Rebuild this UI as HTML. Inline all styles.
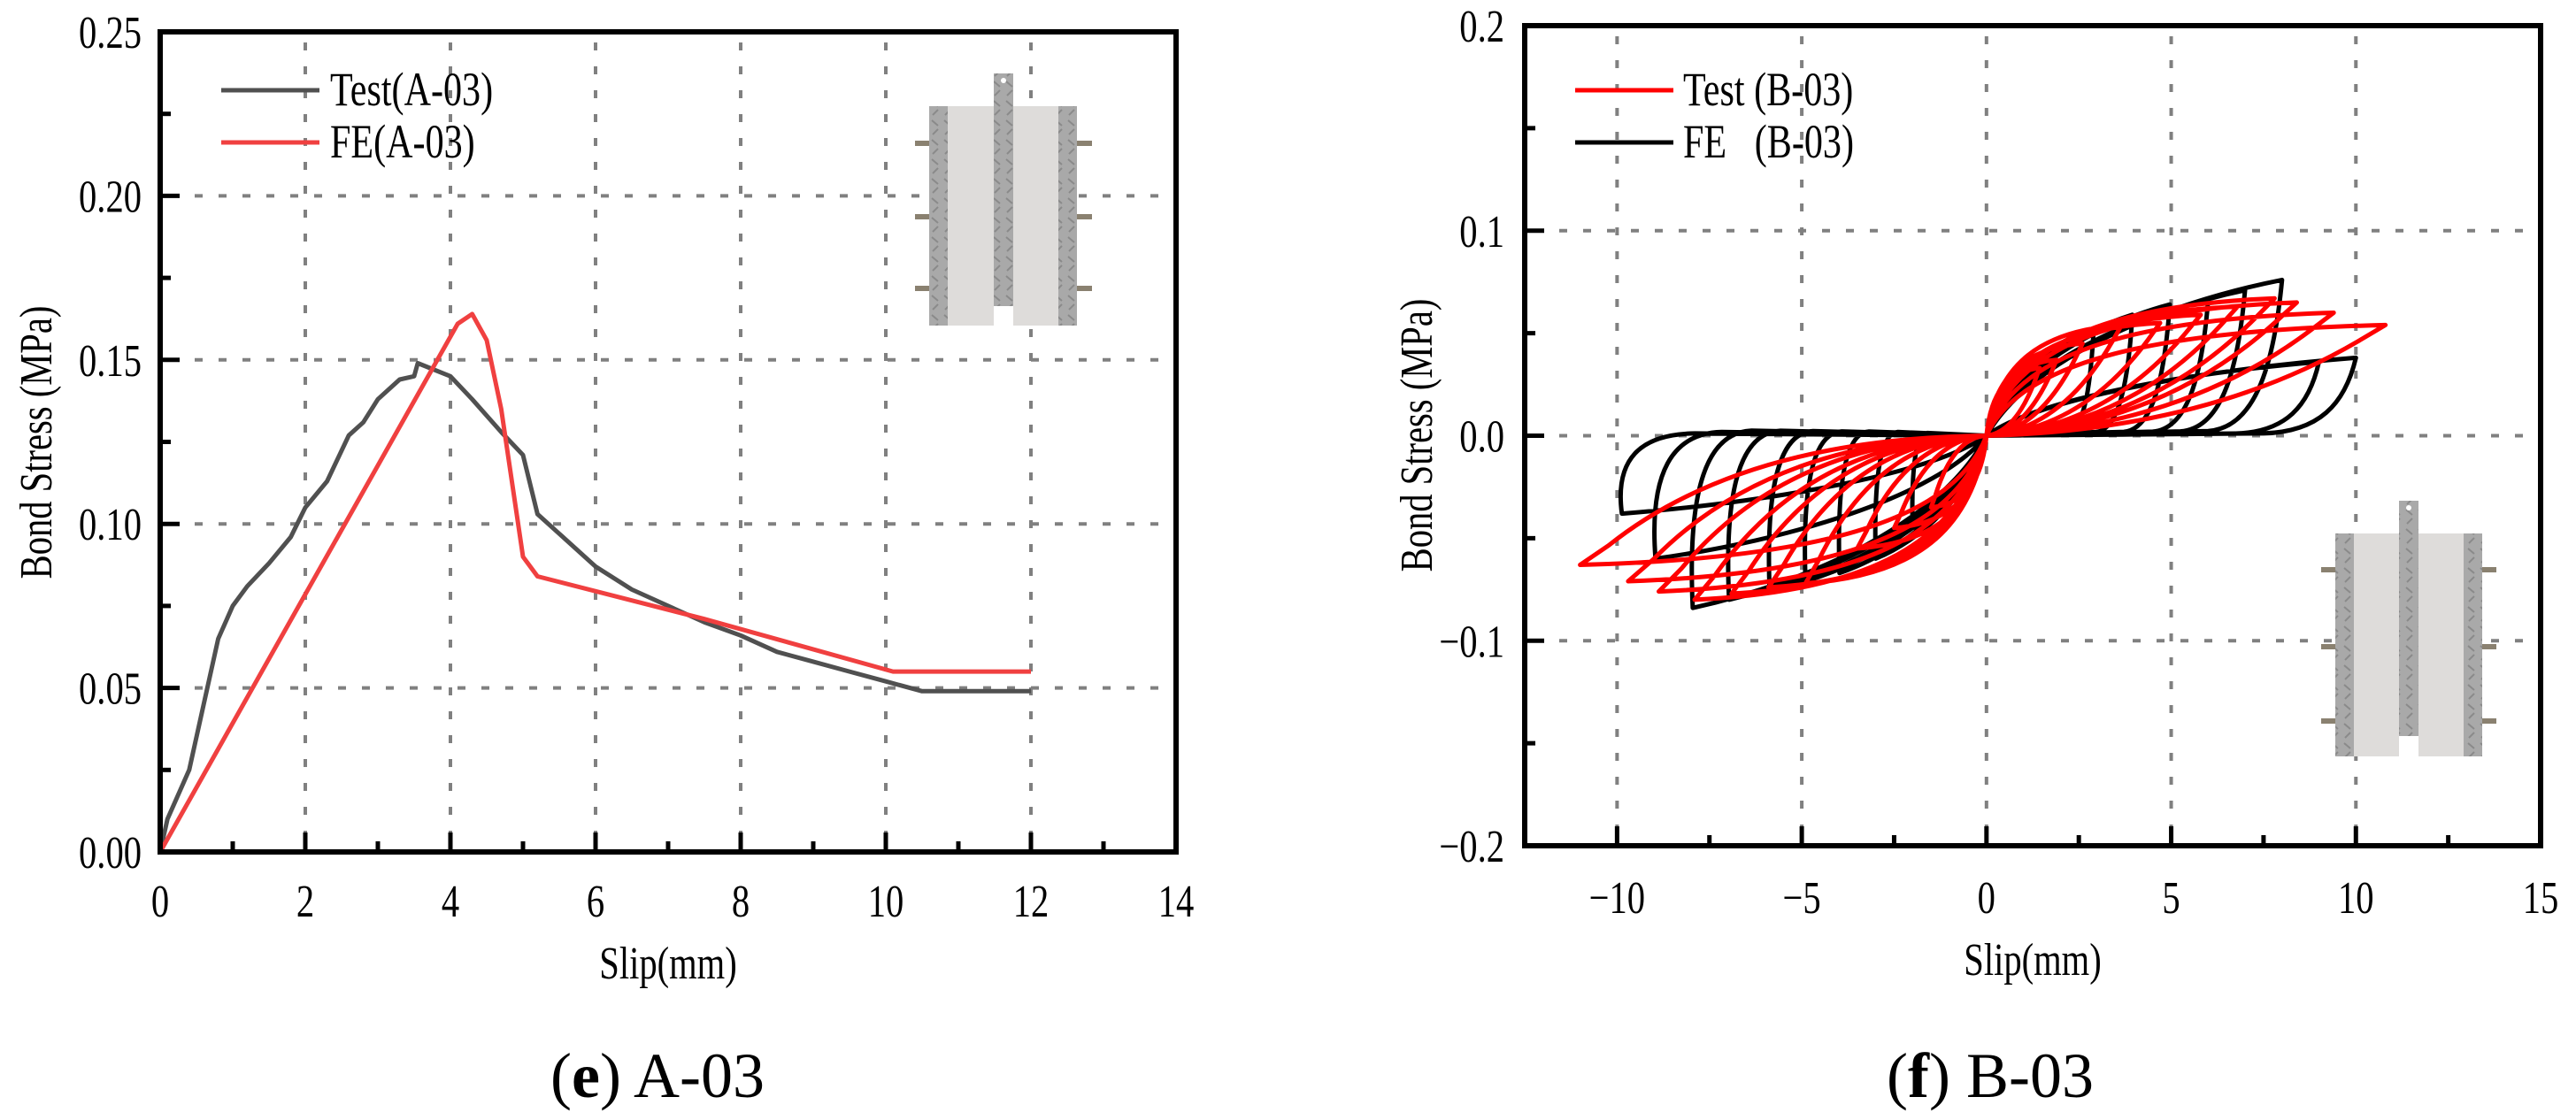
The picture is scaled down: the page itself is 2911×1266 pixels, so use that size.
<!DOCTYPE html>
<html><head><meta charset="utf-8"><style>
html,body{margin:0;padding:0;background:#fff;width:2911px;height:1266px;overflow:hidden}
svg text{font-family:"Liberation Serif","DejaVu Serif",serif;fill:#000}
</style></head><body>
<svg id="fig" width="2911" height="1266" viewBox="0 0 2911 1266" xmlns="http://www.w3.org/2000/svg" font-family="Liberation Serif, serif">
<defs>
<pattern id="plate" width="14" height="22" patternUnits="userSpaceOnUse"><rect width="14" height="22" fill="#a9a9a9"/><path d="M3 4 L10 10 M10 14 L4 20" stroke="#8a8a8a" stroke-width="2"/></pattern>
</defs>
<g id="left"></g>
<g id="right"></g>
</svg>
<script>
// ---- Chart A-03 data ----
const aTestX=[0,0.1,0.2,0.4,0.6,0.8,1.0,1.2,1.5,1.8,2.0,2.3,2.6,2.8,3.0,3.3,3.5,3.55,4.0,4.3,4.7,5.0,5.2,5.5,6.0,6.5,7.0,7.5,8.0,8.5,9.0,9.5,10.0,10.5,12.0];
const aTestY=[0,0.01,0.015,0.025,0.045,0.065,0.075,0.081,0.088,0.096,0.105,0.113,0.127,0.131,0.138,0.144,0.145,0.149,0.145,0.138,0.128,0.121,0.103,0.097,0.087,0.080,0.075,0.070,0.066,0.061,0.058,0.055,0.052,0.049,0.049];
const aFeX=[0,4.1,4.3,4.5,4.7,5.0,5.2,7.5,10.1,12];
const aFeY=[0,0.161,0.164,0.156,0.135,0.09,0.084,0.071,0.055,0.055];
const aXTicks=[0,2,4,6,8,10,12,14];
const aYTicks=[0,0.05,0.10,0.15,0.20,0.25];
const aYLabels=["0.00","0.05","0.10","0.15","0.20","0.25"];
// ---- Chart B-03 data: cycle peaks ----
const bTestPosX=[1.44,1.9,2.6,3.66,4.7,5.8,6.8,7.8,8.4,9.4,10.8];
const bTestPosY=[0.033,0.037,0.045,0.054,0.055,0.059,0.063,0.067,0.065,0.060,0.054];
const bTestNegX=[-1.5,-2.5,-3.5,-4.9,-5.9,-6.9,-7.9,-8.87,-9.7,-11.0];
const bTestNegY=[-0.035,-0.045,-0.055,-0.072,-0.074,-0.077,-0.080,-0.076,-0.071,-0.063];
const bFePosX=[2.9,3.95,4.96,6.0,7.0,8.0,9.0,10.0];
const bFePosY=[0.052,0.059,0.064,0.066,0.071,0.076,0.036,0.038];
const bFeNegX=[-2.0,-3.0,-3.98,-4.9,-5.87,-6.97,-7.95,-8.96,-9.87];
const bFeNegY=[-0.045,-0.06,-0.067,-0.071,-0.076,-0.080,-0.084,-0.060,-0.038];
const bXTicks=[-10,-5,0,5,10,15];
const bXLabels=["\u221210","\u22125","0","5","10","15"];
const bYTicks=[-0.2,-0.1,0,0.1,0.2];
const bYLabels=["\u22120.2","\u22120.1","0.0","0.1","0.2"];

const NS="http://www.w3.org/2000/svg";
const FF="Liberation Serif, DejaVu Serif, serif";
function mk(parent,tag,attrs,text){const e=document.createElementNS(NS,tag);for(const k in attrs)e.setAttribute(k,attrs[k]);if(text!==undefined)e.textContent=text;parent.appendChild(e);return e;}
// condensed text (reference uses a narrow Times face)
function ctext(parent,x,y,size,anchor,str,rot){
  const tr='translate('+x+','+y+')'+(rot?' rotate(-90)':'')+' scale(0.78,1)';
  return mk(parent,'text',{x:0,y:0,'font-size':size,'text-anchor':anchor,'font-family':FF,transform:tr},str);
}

// ================= LEFT =================
(function(){
const g=document.getElementById('left');
const L=181,R=1329,T=36,B=963;
const xs=v=>L+v*(R-L)/14, ys=v=>B-v*(B-T)/0.25;
for(const v of [2,4,6,8,10,12]){const l=mk(g,'line',{x1:xs(v),x2:xs(v),y1:T+12,y2:B-12,stroke:'#808080','stroke-width':4,'stroke-dasharray':'9 18'});

}
for(const v of [0.05,0.1,0.15,0.2]){const l=mk(g,'line',{x1:L+12,x2:R,y1:ys(v),y2:ys(v),stroke:'#808080','stroke-width':4,'stroke-dasharray':'9 18'});

}
const ins=mk(g,'g',{});


for(const py of [162,245,326]){mk(ins,'rect',{x:1034,y:py-3,width:200,height:6,fill:'#8a8170'});}
mk(ins,'rect',{x:1050,y:120,width:167,height:248,fill:'#dedcda'});
mk(ins,'rect',{x:1050,y:120,width:21,height:248,fill:'url(#plate)'});
mk(ins,'rect',{x:1196,y:120,width:21,height:248,fill:'url(#plate)'});
mk(ins,'rect',{x:1123,y:83,width:22,height:263,fill:'url(#plate)'});
mk(ins,'rect',{x:1123,y:346,width:22,height:23,fill:'#fff'});
mk(ins,'circle',{cx:1134,cy:91,r:3,fill:'#fff'});
function line(X,Y,color,name){let d='';X.forEach((x,i)=>{d+=(i?'L':'M')+xs(x).toFixed(1)+' '+ys(Y[i]).toFixed(1);});
const p=mk(g,'path',{d:d,fill:'none',stroke:color,'stroke-width':5,'stroke-linejoin':'round'});

}
line(aTestX,aTestY,'#505050','test-a03-line');
line(aFeX,aFeY,'#f04040','fe-a03-line');
const fr=mk(g,'rect',{x:L,y:T,width:R-L,height:B-T,fill:'none',stroke:'#000','stroke-width':6});


for(let v=0;v<=14;v+=1){const len=v%2?12:22;mk(g,'line',{x1:xs(v),x2:xs(v),y1:B,y2:B-len,stroke:'#000','stroke-width':5});}
for(let i=0;i<=10;i++){const v=i*0.025;const len=i%2?12:22;mk(g,'line',{x1:L,x2:L+len,y1:ys(v),y2:ys(v),stroke:'#000','stroke-width':5});}
aXTicks.forEach(v=>{const t=ctext(g,xs(v),1036,52,'middle',String(v));

});
aYTicks.forEach((v,i)=>{const t=ctext(g,160,ys(v)+18,52,'end',aYLabels[i]);

});
const xt=ctext(g,(L+R)/2,1106,52,'middle','Slip(mm)');


const yt=ctext(g,58,500,52,'middle','Bond Stress (MPa)',true);


const lg=mk(g,'g',{});


mk(lg,'line',{x1:250,x2:361,y1:102,y2:102,stroke:'#505050','stroke-width':5});
ctext(lg,373,119,54,'start','Test(A-03)');
mk(lg,'line',{x1:250,x2:361,y1:161,y2:161,stroke:'#f04040','stroke-width':5});
ctext(lg,373,178,54,'start','FE(A-03)');
const cap=mk(g,'text',{x:743,y:1240,'font-size':72,'text-anchor':'middle','font-family':FF});


mk(cap,'tspan',{},'(');mk(cap,'tspan',{'font-weight':'bold'},'e');mk(cap,'tspan',{},') A-03');
})();

// ================= RIGHT =================
(function(){
const g=document.getElementById('right');
const L=1723,R=2871,T=29,B=956;
const xs=v=>L+(v+12.5)*(R-L)/27.5, ys=v=>B-(v+0.2)*(B-T)/0.4;
for(const v of [-10,-5,0,5,10]){const l=mk(g,'line',{x1:xs(v),x2:xs(v),y1:T+12,y2:B-12,stroke:'#808080','stroke-width':4,'stroke-dasharray':'9 18'});

}
for(const v of [-0.1,0,0.1]){const l=mk(g,'line',{x1:L+12,x2:R,y1:ys(v),y2:ys(v),stroke:'#808080','stroke-width':4,'stroke-dasharray':'9 18'});

}
const ins=mk(g,'g',{});


for(const py of [644,731,815]){mk(ins,'rect',{x:2623,y:py-3,width:198,height:6,fill:'#8a8170'});}
mk(ins,'rect',{x:2639,y:603,width:166,height:252,fill:'#dedcda'});
mk(ins,'rect',{x:2639,y:603,width:21,height:252,fill:'url(#plate)'});
mk(ins,'rect',{x:2784,y:603,width:21,height:252,fill:'url(#plate)'});
mk(ins,'rect',{x:2711,y:566,width:22,height:266,fill:'url(#plate)'});
mk(ins,'rect',{x:2711,y:832,width:22,height:24,fill:'#fff'});
mk(ins,'circle',{cx:2722,cy:574,r:3,fill:'#fff'});
function P(x,y){return xs(x).toFixed(1)+' '+ys(y).toFixed(1);}
function loopPos(xp,yp,kind){
  if(kind==='test') return 'M'+P(0,0)+' C'+P(xp*0.08,yp*0.65)+' '+P(xp*0.4,yp*0.95)+' '+P(xp,yp)+' L'+P(xp*0.93,yp*0.85)+' Q'+P(xp*0.55,yp*0.05)+' '+P(0,0);
  return 'M'+P(0,0)+' C'+P(xp*0.15,yp*0.5)+' '+P(xp*0.6,yp*0.85)+' '+P(xp,yp)+' C'+P(xp*0.97,yp*0.4)+' '+P(xp*0.9,yp*0.05)+' '+P(xp*0.75,yp*0.03)+' L'+P(0,0);
}
function loopNeg(xp,yp,kind){
  if(kind==='test') return 'M'+P(0,0)+' C'+P(xp*0.08,yp*0.65)+' '+P(xp*0.4,yp*0.95)+' '+P(xp,yp)+' L'+P(xp*0.93,yp*0.85)+' Q'+P(xp*0.6,yp*0.02)+' '+P(0,0);
  return 'M'+P(0,0)+' C'+P(xp*0.15,yp*0.5)+' '+P(xp*0.6,yp*0.85)+' '+P(xp,yp)+' C'+P(xp*1.02,yp*0.3)+' '+P(xp*0.95,-yp*0.02)+' '+P(xp*0.8,-yp*0.03)+' L'+P(0,0);
}
function series(PX,PY,NX,NY,kind,color,name){
  let d='';
  PX.forEach((x,i)=>{d+=loopPos(x,PY[i],kind)+' ';});
  NX.forEach((x,i)=>{d+=loopNeg(x,NY[i],kind)+' ';});
  const p=mk(g,'path',{d:d,fill:'none',stroke:color,'stroke-width':5,'stroke-linejoin':'round'});
  
  
}
series(bFePosX,bFePosY,bFeNegX,bFeNegY,'fe','#000','fe-b03-loops');
series(bTestPosX,bTestPosY,bTestNegX,bTestNegY,'test','#ff0000','test-b03-loops');
const fr=mk(g,'rect',{x:L,y:T,width:R-L,height:B-T,fill:'none',stroke:'#000','stroke-width':6});


for(let v=-12.5;v<=15.01;v+=2.5){if(v<-12||v>14.9)continue;const len=(Math.round(v/2.5)%2)?12:22;mk(g,'line',{x1:xs(v),x2:xs(v),y1:B,y2:B-len,stroke:'#000','stroke-width':5});}
for(let i=0;i<=8;i++){const v=-0.2+i*0.05;const len=i%2?12:22;mk(g,'line',{x1:L,x2:L+len,y1:ys(v),y2:ys(v),stroke:'#000','stroke-width':5});}
bXTicks.forEach((v,i)=>{const t=ctext(g,xs(v),1032,52,'middle',bXLabels[i]);

});
bYTicks.forEach((v,i)=>{const t=ctext(g,1700,ys(v)+18,52,'end',bYLabels[i]);

});
const xt=ctext(g,(L+R)/2,1102,52,'middle','Slip(mm)');


const yt=ctext(g,1618,492,52,'middle','Bond Stress (MPa)',true);


const lg=mk(g,'g',{});


mk(lg,'line',{x1:1780,x2:1891,y1:102,y2:102,stroke:'#ff0000','stroke-width':5});
ctext(lg,1902,119,54,'start','Test (B-03)');
mk(lg,'line',{x1:1780,x2:1891,y1:161,y2:161,stroke:'#000','stroke-width':5});
const t2=ctext(lg,1902,178,54,'start','FE   (B-03)');
t2.setAttribute('xml:space','preserve');
t2.style.whiteSpace='pre';
const cap=mk(g,'text',{x:2249,y:1240,'font-size':72,'text-anchor':'middle','font-family':FF});


mk(cap,'tspan',{},'(');mk(cap,'tspan',{'font-weight':'bold'},'f');mk(cap,'tspan',{},') B-03');
})();
</script>
</body></html>
